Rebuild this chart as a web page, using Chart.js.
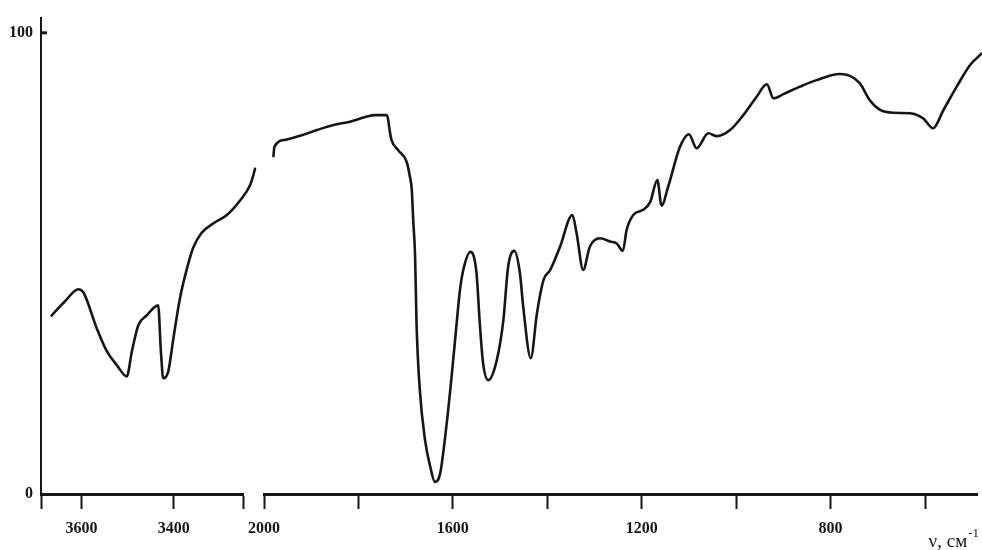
<!DOCTYPE html>
<html>
<head>
<meta charset="utf-8">
<title>IR spectrum</title>
<script src="https://cdn.jsdelivr.net/npm/chart.js@4.4.1/dist/chart.umd.min.js"></script>
<style>
  html, body { margin: 0; padding: 0; background: #fff; }
  #wrap { position: relative; width: 982px; height: 550px; overflow: hidden; background: #fff; }
  #wrap canvas { position: absolute; top: 0; }
  #leftPart { left: 0; }
  #rightPart { left: 240px; }
</style>
</head>
<body>
<div id="wrap">
  <canvas id="leftPart" width="262" height="550"></canvas>
  <canvas id="rightPart" width="742" height="550"></canvas>
</div>
<script>
// High-frequency region (O–H / N–H stretch), cm^-1 and transmittance, %
const leftWavenumbers = [3665, 3636, 3607, 3596, 3567, 3545, 3524, 3502, 3491, 3477, 3459, 3434,
  3428, 3423, 3412, 3401, 3387, 3372, 3358, 3340, 3314, 3285, 3256, 3235, 3228, 3224];
const leftTransmittance = [38.7, 41.8, 44.4, 43.7, 35.9, 30.9, 28.0, 25.5, 30.9, 36.6, 38.7, 40.9,
  30.9, 25.1, 26.6, 33.7, 42.3, 48.7, 53.4, 56.6, 58.7, 60.5, 63.7, 66.9, 69.0, 70.5];

// Fingerprint region 2000–480 cm^-1
const rightWavenumbers = [1980, 1978, 1955, 1920, 1888, 1853, 1818, 1782, 1765, 1740, 1737, 1734,
  1730, 1716, 1698, 1691, 1687, 1684, 1680, 1677, 1670, 1659, 1648, 1638, 1627, 1613, 1602,
  1592, 1585, 1578, 1563, 1550, 1543, 1536, 1525, 1507, 1493, 1483, 1470, 1458, 1451, 1435,
  1422, 1408, 1394, 1373, 1347, 1338, 1324, 1310, 1288, 1267, 1253, 1240, 1232, 1218, 1197,
  1182, 1167, 1158, 1144, 1119, 1100, 1084, 1059, 1041, 1013, 985, 957, 935, 921, 900, 865,
  830, 780, 759, 738, 717, 695, 667, 632, 604, 583, 561, 533, 505, 480];
const rightTransmittance = [72.4, 74.4, 75.9, 76.9, 78.0, 79.1, 79.8, 80.9, 81.2, 81.2, 80.2, 78.0,
  75.9, 73.7, 71.2, 68.0, 65.2, 58.7, 50.9, 36.6, 22.3, 11.6, 5.9, 2.6, 4.4, 15.2, 25.9,
  36.6, 43.7, 48.0, 51.9, 47.4, 36.6, 28.0, 24.4, 28.7, 37.3, 48.7, 52.1, 47.3, 40.1, 29.1,
  38.7, 45.9, 48.0, 53.0, 59.8, 55.9, 48.0, 53.0, 54.8, 54.1, 53.7, 52.1, 56.6, 59.8, 60.9,
  62.6, 67.3, 61.8, 65.9, 74.4, 77.1, 74.1, 77.3, 76.7, 78.0, 81.2, 85.1, 87.8, 84.8, 85.7, 87.3,
  88.7, 90.0, 89.6, 88.0, 84.4, 82.3, 81.7, 81.6, 80.5, 78.4, 82.3, 87.3, 91.9, 94.4];

// Axis ranges and tick marks
const leftRange = [3250, 3688];
const rightRange = [490, 2000];
const leftTickLabels = [3600, 3400];
const rightTickLabels = [2000, 1600, 1200, 800];
const rightMinorTicks = [1800, 1400, 1000, 600];
const yTickLabels = [0, 100];
const yRange = [0, 103.3];
const axisTitle = 'ν, см';
const axisTitleSup = '-1';

const INK = '#161616';
const tickFont = { family: '"Liberation Serif", "Times New Roman", serif', size: 16, weight: 'bold' };

Chart.defaults.font.family = tickFont.family;
Chart.defaults.color = INK;

function pairs(xs, ys) {
  return xs.map((x, i) => ({ x: x, y: ys[i] }));
}

const lineDataset = (xs, ys) => ({
  data: pairs(xs, ys),
  borderColor: INK,
  borderWidth: 2.6,
  pointRadius: 0,
  fill: false,
  clip: false,
  cubicInterpolationMode: 'monotone',
  borderCapStyle: 'round',
  borderJoinStyle: 'round'
});

const xGrid = {
  drawOnChartArea: false,
  drawTicks: true,
  tickLength: 15,
  tickWidth: 2,
  tickColor: INK,
  color: INK
};

const xBorder = { display: true, color: INK, width: 3 };

// Keep the plot edges fixed: labels at the ends may overhang
function fixedXBox(scale) {
  scale.height = 56;
  scale.paddingLeft = 0;
  scale.paddingRight = 0;
}

// Small inward tick at 100 %
const innerTickPlugin = {
  id: 'innerTick',
  afterDraw(chart) {
    const y = chart.scales.y.getPixelForValue(100);
    const ctx = chart.ctx;
    ctx.save();
    ctx.strokeStyle = INK;
    ctx.lineWidth = 3;
    ctx.beginPath();
    ctx.moveTo(chart.chartArea.left, y);
    ctx.lineTo(chart.chartArea.left + 6, y);
    ctx.stroke();
    ctx.restore();
  }
};

// Axis caption with superscript unit
const unitTitlePlugin = {
  id: 'unitTitle',
  afterDraw(chart) {
    const ctx = chart.ctx;
    const right = chart.chartArea.right;
    const base = chart.chartArea.bottom + 53;
    ctx.save();
    ctx.fillStyle = INK;
    ctx.textBaseline = 'alphabetic';
    ctx.font = '13px "Liberation Serif", serif';
    const supW = ctx.measureText(axisTitleSup).width;
    ctx.textAlign = 'right';
    ctx.fillText(axisTitleSup, right + 2, base - 10);
    ctx.font = '19px "Liberation Serif", serif';
    ctx.fillText(axisTitle, right + 2 - supW - 1, base);
    ctx.restore();
  }
};

new Chart(document.getElementById('leftPart'), {
  type: 'line',
  data: { datasets: [lineDataset(leftWavenumbers, leftTransmittance)] },
  options: {
    responsive: false,
    animation: false,
    events: [],
    layout: { padding: { left: 0, right: 19, top: 12, bottom: 0 } },
    plugins: { legend: { display: false }, tooltip: { enabled: false }, title: { display: false } },
    scales: {
      x: {
        type: 'linear',
        reverse: true,
        min: leftRange[0],
        max: leftRange[1],
        afterBuildTicks(scale) {
          const vals = [scale.max].concat(leftTickLabels, [scale.min]);
          scale.ticks = vals.map(v => ({ value: v }));
        },
        afterFit: fixedXBox,
        ticks: {
          autoSkip: false,
          maxRotation: 0,
          padding: 10,
          font: tickFont,
          color: INK,
          callback: v => (leftTickLabels.includes(v) ? String(v) : '')
        },
        grid: xGrid,
        border: xBorder
      },
      y: {
        type: 'linear',
        min: yRange[0],
        max: yRange[1],
        afterBuildTicks(scale) { scale.ticks = yTickLabels.map(v => ({ value: v })); },
        afterFit(scale) { scale.width = 41; },
        ticks: { padding: 8, font: tickFont, color: INK },
        grid: { drawOnChartArea: false, drawTicks: false },
        border: { display: true, color: INK, width: 2 }
      }
    }
  },
  plugins: [innerTickPlugin]
});

new Chart(document.getElementById('rightPart'), {
  type: 'line',
  data: { datasets: [lineDataset(rightWavenumbers, rightTransmittance)] },
  options: {
    responsive: false,
    animation: false,
    events: [],
    layout: { padding: { left: 24, right: 5, top: 12, bottom: 0 } },
    plugins: { legend: { display: false }, tooltip: { enabled: false }, title: { display: false } },
    scales: {
      x: {
        type: 'linear',
        reverse: true,
        min: rightRange[0],
        max: rightRange[1],
        afterBuildTicks(scale) {
          const vals = rightTickLabels.concat(rightMinorTicks).sort((a, b) => b - a);
          scale.ticks = vals.map(v => ({ value: v }));
        },
        afterFit: fixedXBox,
        ticks: {
          autoSkip: false,
          maxRotation: 0,
          padding: 10,
          font: tickFont,
          color: INK,
          callback: v => (rightTickLabels.includes(v) ? String(v) : '')
        },
        grid: xGrid,
        border: xBorder
      },
      y: {
        display: false,
        type: 'linear',
        min: yRange[0],
        max: yRange[1]
      }
    }
  },
  plugins: [unitTitlePlugin]
});
</script>
</body>
</html>
